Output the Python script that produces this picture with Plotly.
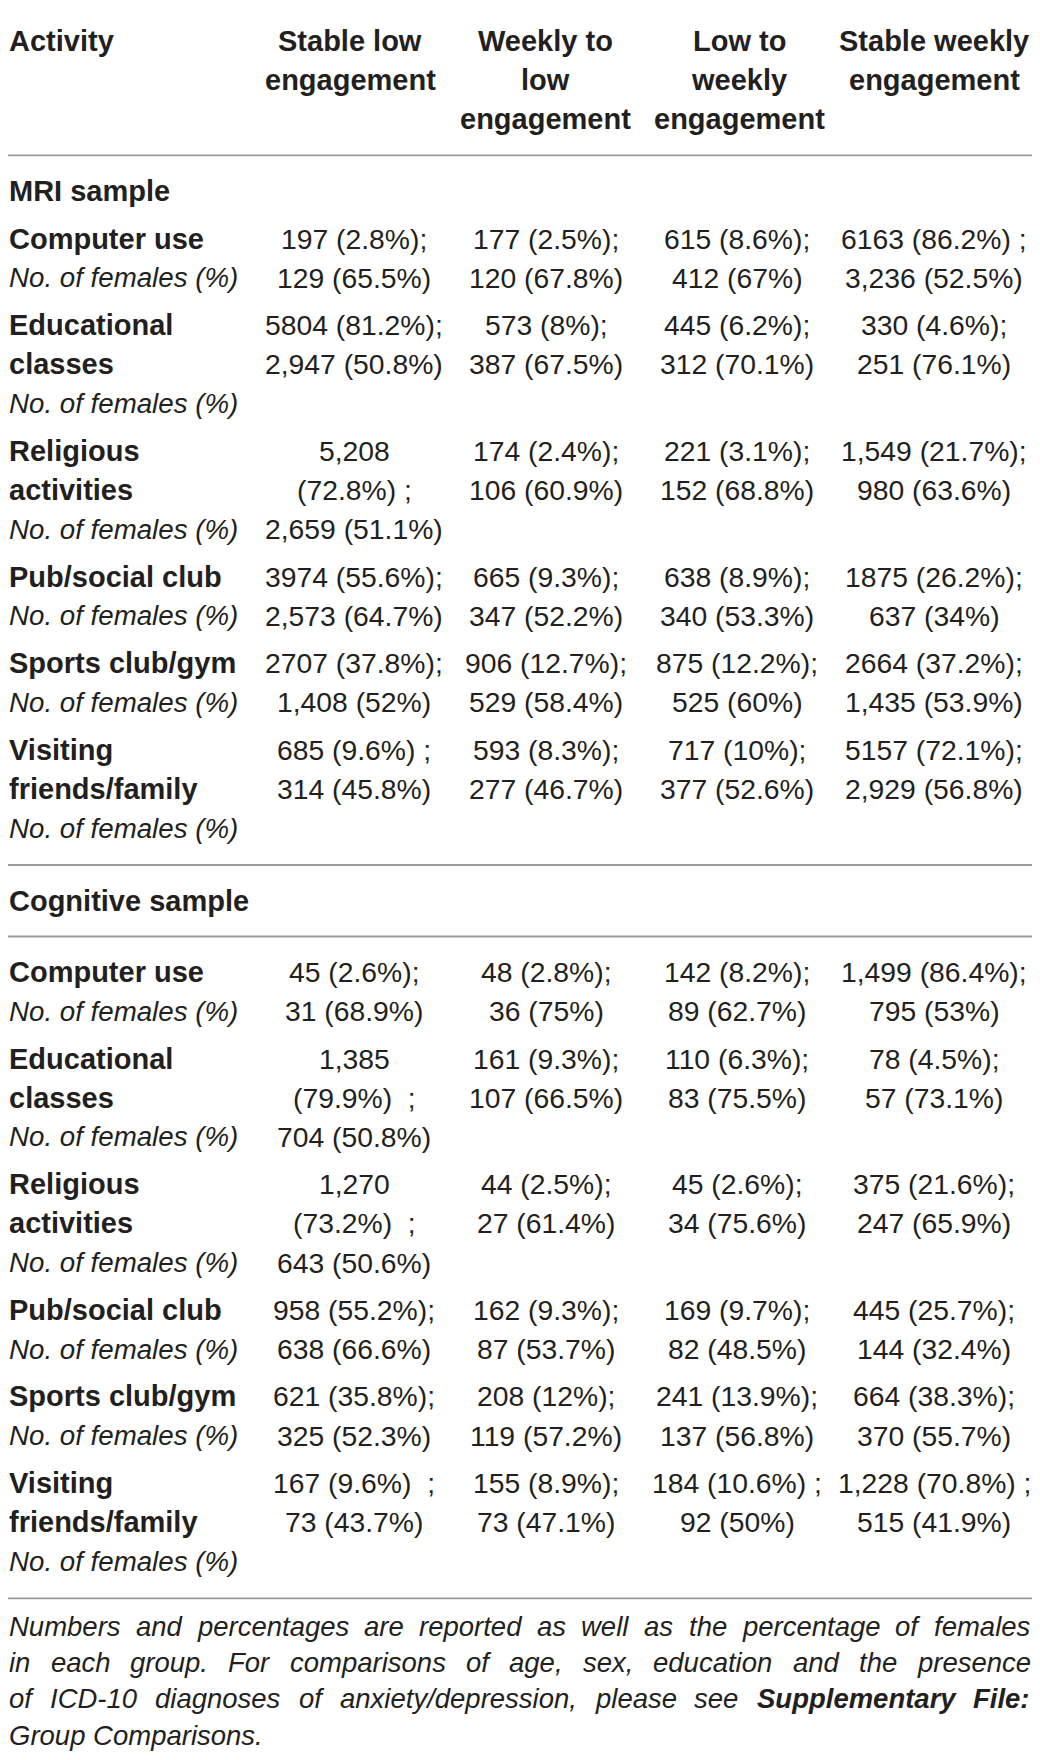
import plotly.graph_objects as go

# Table: activity engagement trajectories, MRI and cognitive samples
activities = ['Computer use', 'Educational\nclasses', 'Religious\nactivities',
              'Pub/social club', 'Sports club/gym', 'Visiting\nfriends/family']
groups = ['Stable low\nengagement', 'Weekly to\nlow\nengagement',
          'Low to\nweekly\nengagement', 'Stable weekly\nengagement']
samples = ['MRI sample', 'Cognitive sample']

mri_counts = [
    ['197 (2.8%);', '177 (2.5%);', '615 (8.6%);', '6163 (86.2%) ;'],
    ['5804 (81.2%);', '573 (8%);', '445 (6.2%);', '330 (4.6%);'],
    ['5,208\n(72.8%) ;', '174 (2.4%);', '221 (3.1%);', '1,549 (21.7%);'],
    ['3974 (55.6%);', '665 (9.3%);', '638 (8.9%);', '1875 (26.2%);'],
    ['2707 (37.8%);', '906 (12.7%);', '875 (12.2%);', '2664 (37.2%);'],
    ['685 (9.6%) ;', '593 (8.3%);', '717 (10%);', '5157 (72.1%);'],
]
mri_females = [
    ['129 (65.5%)', '120 (67.8%)', '412 (67%)', '3,236 (52.5%)'],
    ['2,947 (50.8%)', '387 (67.5%)', '312 (70.1%)', '251 (76.1%)'],
    ['2,659 (51.1%)', '106 (60.9%)', '152 (68.8%)', '980 (63.6%)'],
    ['2,573 (64.7%)', '347 (52.2%)', '340 (53.3%)', '637 (34%)'],
    ['1,408 (52%)', '529 (58.4%)', '525 (60%)', '1,435 (53.9%)'],
    ['314 (45.8%)', '277 (46.7%)', '377 (52.6%)', '2,929 (56.8%)'],
]
cog_counts = [
    ['45 (2.6%);', '48 (2.8%);', '142 (8.2%);', '1,499 (86.4%);'],
    ['1,385\n(79.9%)  ;', '161 (9.3%);', '110 (6.3%);', '78 (4.5%);'],
    ['1,270\n(73.2%)  ;', '44 (2.5%);', '45 (2.6%);', '375 (21.6%);'],
    ['958 (55.2%);', '162 (9.3%);', '169 (9.7%);', '445 (25.7%);'],
    ['621 (35.8%);', '208 (12%);', '241 (13.9%);', '664 (38.3%);'],
    ['167 (9.6%)  ;', '155 (8.9%);', '184 (10.6%) ;', '1,228 (70.8%) ;'],
]
cog_females = [
    ['31 (68.9%)', '36 (75%)', '89 (62.7%)', '795 (53%)'],
    ['704 (50.8%)', '107 (66.5%)', '83 (75.5%)', '57 (73.1%)'],
    ['643 (50.6%)', '27 (61.4%)', '34 (75.6%)', '247 (65.9%)'],
    ['638 (66.6%)', '87 (53.7%)', '82 (48.5%)', '144 (32.4%)'],
    ['325 (52.3%)', '119 (57.2%)', '137 (56.8%)', '370 (55.7%)'],
    ['73 (43.7%)', '73 (47.1%)', '92 (50%)', '515 (41.9%)'],
]
footnote = [
    'Numbers and percentages are reported as well as the percentage of females',
    'in each group. For comparisons of age, sex, education and the presence',
    'of ICD-10 diagnoses of anxiety/depression, please see <b>Supplementary</b> <b>File:</b>',
    'Group Comparisons.',
]

FONT = 'Liberation Sans'
INK = '#231f20'
W, H = 1040, 1760
PAD = 8  # default page margin around the plot div
LEFT, RIGHT = 6, 1034
TEXT_LEFT = 9
head_x = [350, 545, 739, 934]
cell_x = [354, 546, 737, 934]
LINE = 39.2

# Arial / Liberation Sans advance widths (1/1000 em), used to justify the note
REG = dict(zip('abcdefghijklmnopqrstuvwxyz',
               [556, 556, 500, 556, 556, 278, 556, 556, 222, 222, 500, 222, 833,
                556, 556, 556, 556, 333, 500, 278, 556, 500, 722, 500, 500, 500]))
REG.update({'C': 722, 'D': 722, 'F': 611, 'G': 778, 'I': 278, 'N': 722, 'S': 667,
            '-': 333, '/': 278, '.': 278, ',': 278, ':': 278, ' ': 278})
REG.update({d: 556 for d in '0123456789'})
BOLD = {'S': 667, 'u': 611, 'p': 611, 'l': 278, 'e': 556, 'm': 889, 'n': 611, 't': 333,
        'a': 556, 'r': 389, 'y': 556, 'F': 611, 'i': 278, ':': 333}

fig = go.Figure()


# page pixels -> paper coordinates (the page adds an 8px margin round the plot)
def px(x):
    return (x - PAD) / (W - 2 * PAD)


def py(y):
    return 1 - (y - PAD) / (H - 2 * PAD)


def text(x, y, s, anchor='left', size=28.3):
    fig.add_annotation(x=px(x), y=py(y), xref='paper', yref='paper', text=s,
                       xanchor=anchor, yanchor='middle', showarrow=False,
                       borderpad=0, borderwidth=0,
                       font=dict(family=FONT, size=size, color=INK))


def rule(y):
    fig.add_shape(type='line', xref='paper', yref='paper', x0=px(LEFT + 1), x1=px(RIGHT),
                  y0=py(y), y1=py(y), line=dict(color='#9b9b9b', width=1.8))


def word_width(w, size):
    if w.startswith('<b>'):
        w = w[3:-4]
        return sum(BOLD.get(c, 556) for c in w) * size / 1000
    return sum(REG.get(c, 556) for c in w) * size / 1000


y = 5
rule(y)
y += 36
text(TEXT_LEFT, y, '<b>Activity</b>', size=29)
for x, head in zip(head_x, groups):
    for i, part in enumerate(head.split('\n')):
        text(x, y + i * LINE, f'<b>{part}</b>', 'center', size=29)
y += 2 * LINE + 36
rule(y)

for title, counts, females in zip(samples, [mri_counts, cog_counts], [mri_females, cog_females]):
    y += 35.5
    text(TEXT_LEFT, y, f'<b>{title}</b>', size=29)
    if title.startswith('Cog'):
        y += 36
        rule(y)
        y += 35.5
    else:
        y += 47.8
    for act, n_row, f_row in zip(activities, counts, females):
        label = [f'<b>{p}</b>' for p in act.split('\n')]
        for i, s in enumerate(label):
            text(TEXT_LEFT, y + i * LINE, s, size=29)
        text(TEXT_LEFT, y + len(label) * LINE, '<i>No. of females (%)</i>', size=27.7)
        depth = len(label) + 1
        for x, n, f in zip(cell_x, n_row, f_row):
            parts = n.split('\n') + [f]
            depth = max(depth, len(parts))
            for i, s in enumerate(parts):
                text(x, y + i * LINE, s.replace('  ', '&nbsp; '), 'center')
        y += (depth - 1) * LINE + 47.3
    y += 37 - 47.3
    rule(y)

# justified footnote (last line left aligned)
FS = 27.5
y += 28
for k, line in enumerate(footnote):
    if k == len(footnote) - 1:
        text(TEXT_LEFT, y, f'<i>{line}</i>', size=FS)
    else:
        words = line.split(' ')
        widths = [word_width(w, FS) for w in words]
        gap = (1030 - TEXT_LEFT - sum(widths)) / (len(words) - 1)
        x = TEXT_LEFT
        for w, ww in zip(words, widths):
            text(x, y, f'<i>{w}</i>', size=FS)
            x += ww + gap
    y += 36.3

fig.update_xaxes(visible=False, fixedrange=True)
fig.update_yaxes(visible=False, fixedrange=True)
fig.update_layout(width=W - 2 * PAD, height=H - 2 * PAD, margin=dict(l=0, r=0, t=0, b=0),
                  plot_bgcolor='white', paper_bgcolor='white', showlegend=False)
fig.write_html('out.html')
